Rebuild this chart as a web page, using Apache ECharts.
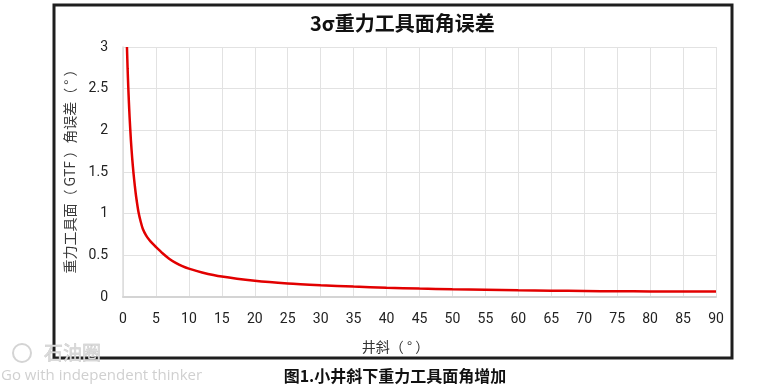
<!DOCTYPE html>
<html>
<head>
<meta charset="utf-8">
<script src="https://cdn.jsdelivr.net/npm/echarts@6/dist/echarts.min.js"></script>
<style>
html,body{margin:0;padding:0;background:#fff;}
#c{width:775px;height:388px;}
</style>
</head>
<body>
<div id="c"></div>
<script>
// ---- data ----
const chartTitle = '3σ重力工具面角误差';
const caption = '图1.小井斜下重力工具面角增加';
const xName = '井斜（ ° ）';
const yName = '重力工具面（ GTF ）角误差（ ° ）';
const inclination = [0.6, 0.7, 0.8, 0.9, 1.0, 1.2, 1.4, 1.6, 1.8, 2.0, 2.35, 2.7, 3.0, 3.5, 4.0, 4.5, 5.0, 6.0, 7.0, 8.0, 9.0, 10, 12, 15, 20, 25, 30, 35, 40, 45, 50, 55, 60, 65, 70, 75, 80, 85, 90];
const gtfError    = [3.0, 2.74, 2.52, 2.33, 2.16, 1.88, 1.66, 1.48, 1.33, 1.2, 1.02, 0.9, 0.82, 0.74, 0.685, 0.64, 0.6, 0.525, 0.46, 0.41, 0.37, 0.34, 0.295, 0.245, 0.195, 0.163, 0.142, 0.125, 0.112, 0.101, 0.093, 0.087, 0.081, 0.076, 0.072, 0.069, 0.067, 0.066, 0.065];
const xTicks = {min: 0, max: 90, step: 5};
const yTicks = {min: 0, max: 3, step: 0.5};

const seriesData = inclination.map((x, i) => [x, gtfError[i]]);
const cjk = '"Noto Sans CJK SC", "Noto Sans", sans-serif';
const num = 'Roboto, "Noto Sans", sans-serif';

const chart = echarts.init(document.getElementById('c'), null, {renderer: 'canvas'});
chart.setOption({
  animation: false,
  backgroundColor: '#ffffff',
  title: {
    text: chartTitle,
    left: 305,
    top: 8,
    textStyle: {fontFamily: cjk, fontSize: 20, fontWeight: 'bold', color: '#111'}
  },
  grid: {left: 123, right: 59, top: 47, bottom: 91, containLabel: false},
  xAxis: {
    type: 'value',
    min: xTicks.min, max: xTicks.max, interval: xTicks.step,
    name: xName,
    nameLocation: 'middle',
    nameGap: 43,
    nameTextStyle: {fontFamily: cjk, fontSize: 14, color: '#333', padding: [0, 48, 0, 0]},
    axisLine: {show: true, lineStyle: {color: '#d4d4d4', width: 2}},
    axisTick: {show: false},
    axisLabel: {margin: 15, fontFamily: num, fontSize: 14, color: '#222'},
    splitLine: {show: true, lineStyle: {color: '#e2e2e2', width: 1}}
  },
  yAxis: {
    type: 'value',
    min: yTicks.min, max: yTicks.max, interval: yTicks.step,
    name: yName,
    nameLocation: 'middle',
    nameGap: 46,
    nameRotate: 90,
    nameTextStyle: {fontFamily: cjk, fontSize: 14, color: '#3a3a3a', padding: [0, 0, 0, 8]},
    axisLine: {show: true, lineStyle: {color: '#dcdcdc', width: 1.5}},
    axisTick: {show: false},
    axisLabel: {margin: 15, fontFamily: num, fontSize: 14, color: '#222'},
    splitLine: {show: true, lineStyle: {color: '#e2e2e2', width: 1}}
  },
  series: [{
    type: 'line',
    data: seriesData,
    showSymbol: false,
    smooth: 0.25,
    lineStyle: {color: '#e20000', width: 2.5},
    itemStyle: {color: '#e20000'}
  }],
  graphic: [
    {type: 'rect', shape: {x: 54, y: 5, width: 678, height: 353}, style: {fill: null, stroke: '#1e1e1e', lineWidth: 3}, z: 10, silent: true},
    {type: 'text', x: 395, y: 376, style: {text: caption, fontFamily: cjk, fontSize: 16, fontWeight: 'bold', fill: '#111', align: 'center', verticalAlign: 'middle'}, z: 10},
    {type: 'circle', shape: {cx: 22, cy: 353, r: 9}, style: {fill: null, stroke: '#d4d4d4', lineWidth: 2}, z: 11},
    {type: 'text', x: 44, y: 353, style: {text: '石油圈', fontFamily: cjk, fontSize: 19, fill: '#d8d8d8', stroke: '#bdbdbd', lineWidth: 0.5, align: 'left', verticalAlign: 'middle'}, z: 11},
    {type: 'text', x: 1, y: 376, style: {text: 'Go with independent thinker', fontFamily: '"Open Sans", sans-serif', fontSize: 15, fill: '#d0d0d0', align: 'left', verticalAlign: 'middle'}, z: 11}
  ]
});
</script>
</body>
</html>
